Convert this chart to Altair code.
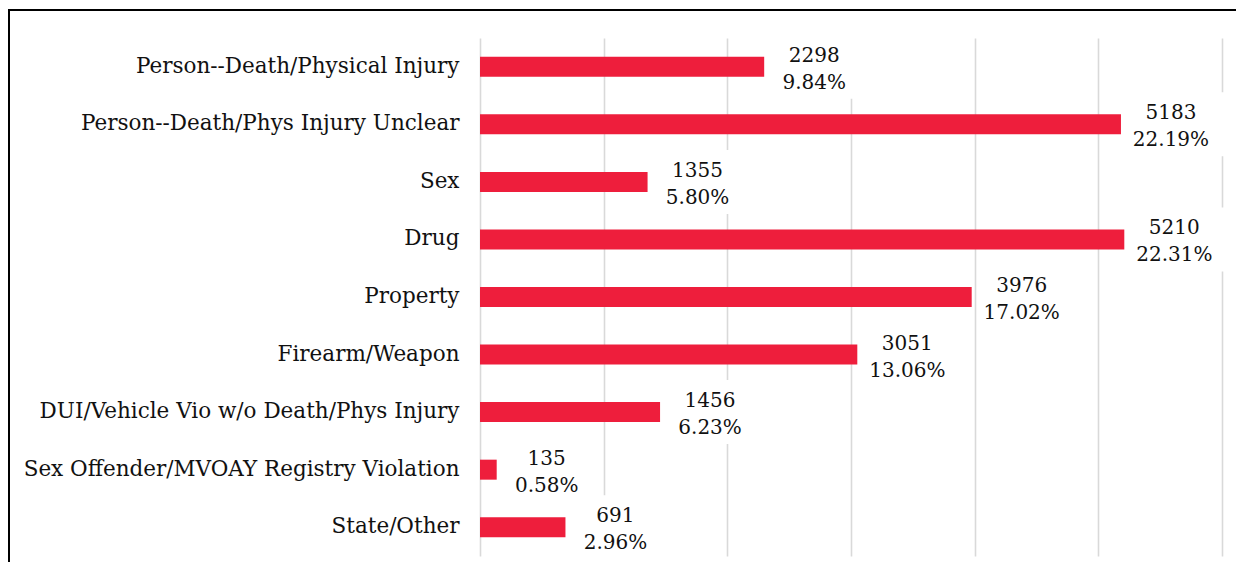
import altair as alt
import pandas as pd

categories = [
    "Person--Death/Physical Injury",
    "Person--Death/Phys Injury Unclear",
    "Sex",
    "Drug",
    "Property",
    "Firearm/Weapon",
    "DUI/Vehicle Vio w/o Death/Phys Injury",
    "Sex Offender/MVOAY Registry Violation",
    "State/Other",
]
counts = [2298, 5183, 1355, 5210, 3976, 3051, 1456, 135, 691]
percents = [9.84, 22.19, 5.80, 22.31, 17.02, 13.06, 6.23, 0.58, 2.96]

df = pd.DataFrame({
    "category": categories,
    "count": counts,
    "pct": percents,
})
df["label"] = [f"{c}\n{p:.2f}%" for c, p in zip(counts, percents)]

FONT = "DejaVu Serif"
RED = "#EE1E3C"

y_enc = alt.Y("category:N", sort=categories, title=None,
              scale=alt.Scale(paddingInner=0, paddingOuter=0),
              axis=alt.Axis(domain=False, ticks=False, grid=False,
                            labelFont=FONT, labelFontSize=21.5,
                            labelColor="#111111", labelPadding=21,
                            labelLimit=0))
x_scale = alt.Scale(domain=[0, 6000], nice=False)

base = alt.Chart(df)

boxes = base.mark_bar(color="white", size=64, xOffset=7, x2Offset=104).encode(
    x=alt.X("count:Q", scale=x_scale,
            axis=alt.Axis(values=[0, 1000, 2000, 3000, 4000, 5000, 6000],
                          labels=False, ticks=False, domain=False, grid=True,
                          gridColor="#d9d9d9", gridWidth=1.6, title=None)),
    x2="count:Q",
    y=y_enc,
)

bars = base.mark_bar(color=RED, size=20).encode(
    x=alt.X("count:Q", scale=x_scale),
    y=y_enc,
)

texts = base.mark_text(align="center", baseline="alphabetic", dx=50, dy=-5,
                       lineBreak="\n", lineHeight=27, font=FONT, fontSize=20,
                       color="#111111").encode(
    x=alt.X("count:Q", scale=x_scale),
    y=y_enc,
    text="label:N",
)

border = base.mark_rect(fillOpacity=0, stroke="black", strokeWidth=2).encode(
    x=alt.value(-471), x2=alt.value(1000),
    y=alt.value(-28), y2=alt.value(800),
)

chart = alt.layer(boxes, bars, texts, border).properties(
    width=742, height=518,
    background="white",
    autosize=alt.AutoSizeParams(type="none"),
    padding={"left": 472, "top": 30, "right": 14, "bottom": 6},
).configure_view(stroke=None)

chart.save("out.html", embed_options={"renderer": "svg", "actions": False})
